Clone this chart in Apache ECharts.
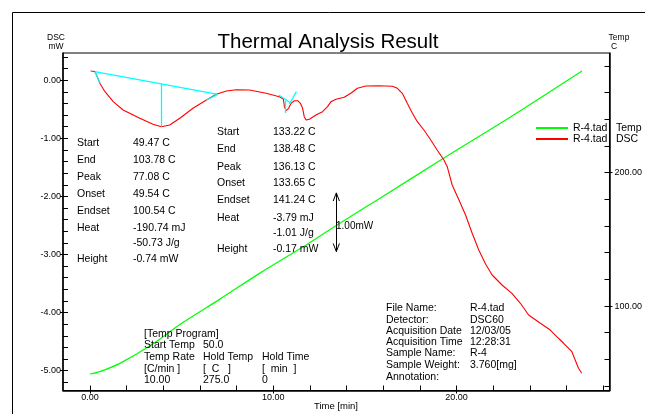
<!DOCTYPE html>
<html>
<head>
<meta charset="utf-8">
<script src="https://cdn.jsdelivr.net/npm/echarts@6/dist/echarts.min.js"></script>
<style>
html,body{margin:0;padding:0;background:#fff;}
#chart{width:645px;height:414px;}
</style>
</head>
<body>
<div id="chart"></div>
<script>
// ---- data ----
const dscTime = [0.04,0.27,0.36,0.54,0.82,1.27,1.81,2.72,3.44,3.90,4.35,4.90,5.62,6.35,6.89,7.44,7.98,8.70,9.61,10.33,10.55,10.61,10.70,10.84,10.97,11.15,11.33,11.48,11.60,11.69,11.79,11.97,12.33,12.69,12.96,13.15,13.42,13.87,14.23,14.59,15.05,15.77,16.50,16.77,17.04,17.31,17.59,17.86,18.22,18.59,18.94,19.31,19.49,19.76,20.13,20.49,20.85,21.21,21.58,21.94,22.48,23.02,23.48,23.93,24.57,25.11,25.56,25.84,26.29,26.47,26.65,26.83];
const dscVal = [0.158,0.150,0.090,-0.053,-0.198,-0.370,-0.513,-0.656,-0.759,-0.800,-0.771,-0.656,-0.484,-0.341,-0.243,-0.186,-0.164,-0.169,-0.225,-0.284,-0.324,-0.456,-0.525,-0.484,-0.398,-0.353,-0.353,-0.398,-0.484,-0.628,-0.685,-0.673,-0.599,-0.542,-0.456,-0.370,-0.329,-0.294,-0.225,-0.139,-0.100,-0.095,-0.103,-0.139,-0.225,-0.398,-0.570,-0.714,-0.857,-1.029,-1.201,-1.373,-1.489,-1.804,-2.062,-2.320,-2.635,-2.923,-3.164,-3.353,-3.525,-3.668,-3.840,-4.041,-4.184,-4.300,-4.442,-4.528,-4.673,-4.816,-4.959,-5.045];
const tempTime = [0,0.54,1.63,3.43,5.0,7.07,9.25,11.52,13.48,15.78,19.31,22.85,26.84];
const tempVal = [49.0,50.8,57.0,71.5,87.0,105.0,124.5,143.5,160.8,180.5,211.0,241.0,276.3];
// analysis baselines (cyan) : [t1, v1, t2, v2]
const baseLines = [
  [0.27,0.146,6.98,-0.243],
  [3.90,-0.064,3.90,-0.800],
  [0.27,0.146,0.55,-0.05],
  [6.35,-0.341,6.98,-0.243],
  [10.30,-0.255,10.97,-0.398],
  [10.66,-0.349,10.66,-0.565],
  [10.88,-0.410,11.26,-0.198]
];
// 1.00 mW scale bar: [t, vTop, vBottom]
const scaleBar = [13.44,-1.94,-2.95];
// axes
const xMajor = [0,10,20];
const xMinor = [0,2,4,6,8,10,12,14,16,18,20,22,24,26,28];
const yMajor = [0,-1,-2,-3,-4,-5];
const yMinor = [0.4,0.2,0,-0.2,-0.4,-0.6,-0.8,-1,-1.2,-1.4,-1.6,-1.8,-2,-2.2,-2.4,-2.6,-2.8,-3,-3.2,-3.4,-3.6,-3.8,-4,-4.2,-4.4,-4.6,-4.8,-5,-5.2];
const tMajor = [100,200];
const tMinor = [40,60,80,100,120,140,160,180,200,220,240,260,280];
const xRange = [-1.47,28.34];
const yRange = [-5.341,0.468];
const tRange = [36.65,289.8];

const FONT = '"Liberation Sans", Arial, sans-serif';
const chart = echarts.init(document.getElementById('chart'), null, {renderer:'canvas'});

function txt(x,y,s,size,align){
  return {type:'text', x:x, y:y, silent:true, z:100,
    style:{text:s, fill:'#000', fontSize:size||10.5, fontFamily:FONT, align:align||'left', verticalAlign:'middle'}};
}
const graphics = [];
graphics.push({type:'rect', shape:{x:12.5,y:12.5,width:700,height:500}, style:{fill:'none',stroke:'#000',lineWidth:1}, silent:true, z:0});
graphics.push(txt(328,42.5,'Thermal Analysis Result',20.5,'center'));
graphics.push(txt(56,37.5,'DSC',8.5,'center'));
graphics.push(txt(56,47,'mW',8.5,'center'));
graphics.push(txt(619,37.5,'Temp',8.5,'center'));
graphics.push(txt(614,47,'C',8.5,'center'));
graphics.push(txt(336,406,'Time [min]',9.5,'center'));
// block 1
const b1L = ['Start','End','Peak','Onset','Endset','Heat','','Height'];
const b1V = ['49.47 C','103.78 C','77.08 C','49.54 C','100.54 C','-190.74 mJ','-50.73 J/g','-0.74 mW'];
const b1Y = [142.7,160,177.5,194.5,211,228.3,243.5,259.5];
b1L.forEach((s,i)=>{ if(s) graphics.push(txt(77,b1Y[i],s)); graphics.push(txt(133,b1Y[i],b1V[i])); });
// block 2
const b2L = ['Start','End','Peak','Onset','Endset','Heat','','Height'];
const b2V = ['133.22 C','138.48 C','136.13 C','133.65 C','141.24 C','-3.79 mJ','-1.01 J/g','-0.17 mW'];
const b2Y = [131.7,149.5,166.7,183.5,200.5,217.7,233.5,249.5];
b2L.forEach((s,i)=>{ if(s) graphics.push(txt(217,b2Y[i],s)); graphics.push(txt(273,b2Y[i],b2V[i])); });
graphics.push(txt(336,226.5,'1.00mW',10));
// temp program
graphics.push(txt(144,334.5,'[Temp Program]'));
graphics.push(txt(144,345.5,'Start Temp'));
graphics.push(txt(203,345.5,'50.0'));
[['Temp Rate','Hold Temp','Hold Time'],['[C/min ]','[  C   ]','[  min  ]'],['10.00','275.0','0']].forEach((r,i)=>{
  const yy=[357.5,369.5,380.5][i];
  graphics.push(txt(144,yy,r[0])); graphics.push(txt(203,yy,r[1])); graphics.push(txt(262,yy,r[2]));
});
// file info
const fiL = ['File Name:','Detector:','Acquisition Date','Acquisition Time','Sample Name:','Sample Weight:','Annotation:'];
const fiV = ['R-4.tad','DSC60','12/03/05','12:28:31','R-4','3.760[mg]',''];
const fiY = [308.5,320,331.5,342.5,353.5,365,377];
fiL.forEach((s,i)=>{ graphics.push(txt(386,fiY[i],s)); if(fiV[i]) graphics.push(txt(470,fiY[i],fiV[i])); });

const fmt2 = v => v.toFixed(2);
const axisLineStyle = {color:'#000', width:1.5};

const cyanPairs = baseLines.map(b => [{coord:[b[0],b[1]]},{coord:[b[2],b[3]]}]);
const dt = 0.17, dv = 0.14;
const barPairs = [
  [{coord:[scaleBar[0],scaleBar[1]]},{coord:[scaleBar[0],scaleBar[2]]}],
  [{coord:[scaleBar[0],scaleBar[1]]},{coord:[scaleBar[0]-dt,scaleBar[1]-dv]}],
  [{coord:[scaleBar[0],scaleBar[1]]},{coord:[scaleBar[0]+dt,scaleBar[1]-dv]}],
  [{coord:[scaleBar[0],scaleBar[2]]},{coord:[scaleBar[0]-dt,scaleBar[2]+dv]}],
  [{coord:[scaleBar[0],scaleBar[2]]},{coord:[scaleBar[0]+dt,scaleBar[2]+dv]}]
];

const option = {
  animation:false,
  backgroundColor:'#fff',
  textStyle:{fontFamily:FONT},
  grid:{left:63, top:53, width:548, height:337.5, show:true, borderColor:'#000', borderWidth:1, containLabel:false},
  legend:{
    data:['Temp','DSC'], orient:'vertical', left:536, top:122.5, padding:0, itemWidth:32, itemHeight:2, itemGap:0,
    icon:'rect', selectedMode:false,
    formatter: n => '{a|R-4.tad}{b|' + n + '}',
    textStyle:{fontSize:10.5, lineHeight:11, color:'#000', fontFamily:FONT,
      rich:{a:{width:43, fontSize:10.5, lineHeight:11, fontFamily:FONT}, b:{fontSize:10.5, lineHeight:11, fontFamily:FONT}}}
  },
  xAxis:[
    {type:'value', min:xRange[0], max:xRange[1], position:'bottom',
     axisLine:{show:true, onZero:false, lineStyle:axisLineStyle},
     axisTick:{show:true, inside:false, length:3, customValues:xMajor, lineStyle:{color:'#000'}},
     axisLabel:{show:true, customValues:xMajor, formatter:fmt2, fontSize:9, color:'#000', margin:3, fontFamily:FONT},
     splitLine:{show:false}},
    {type:'value', min:xRange[0], max:xRange[1], position:'bottom',
     axisLine:{show:false, onZero:false},
     axisTick:{show:true, inside:true, length:5, customValues:xMinor, lineStyle:{color:'#000'}},
     axisLabel:{show:false}, splitLine:{show:false}}
  ],
  yAxis:[
    {type:'value', min:yRange[0], max:yRange[1], position:'left',
     axisLine:{show:true, onZero:false, lineStyle:axisLineStyle},
     axisTick:{show:true, inside:false, length:3, customValues:yMajor, lineStyle:{color:'#000'}},
     axisLabel:{show:true, customValues:yMajor, formatter:fmt2, fontSize:9, color:'#000', margin:2, fontFamily:FONT},
     splitLine:{show:false}},
    {type:'value', min:tRange[0], max:tRange[1], position:'right',
     axisLine:{show:true, onZero:false, lineStyle:axisLineStyle},
     axisTick:{show:true, inside:false, length:3, customValues:tMajor, lineStyle:{color:'#000'}},
     axisLabel:{show:true, customValues:tMajor, formatter:fmt2, fontSize:9, color:'#000', margin:5, fontFamily:FONT},
     splitLine:{show:false}},
    {type:'value', min:yRange[0], max:yRange[1], position:'left',
     axisLine:{show:false, onZero:false},
     axisTick:{show:true, inside:true, length:5, customValues:yMinor, lineStyle:{color:'#000'}},
     axisLabel:{show:false}, splitLine:{show:false}},
    {type:'value', min:tRange[0], max:tRange[1], position:'right',
     axisLine:{show:false, onZero:false},
     axisTick:{show:true, inside:true, length:5, customValues:tMinor, lineStyle:{color:'#000'}},
     axisLabel:{show:false}, splitLine:{show:false}}
  ],
  series:[
    {name:'Temp', type:'line', xAxisIndex:0, yAxisIndex:1, showSymbol:false, symbol:'none', smooth:0.3,
     data: tempTime.map((t,i)=>[t,tempVal[i]]), itemStyle:{color:'#00ff00'}, lineStyle:{color:'#00ff00', width:1.2}, z:3},
    {name:'DSC', type:'line', xAxisIndex:0, yAxisIndex:0, showSymbol:false, symbol:'none', smooth:false,
     data: dscTime.map((t,i)=>[t,dscVal[i]]), itemStyle:{color:'#ff0000'}, lineStyle:{color:'#ff0000', width:1.1}, z:4},
    {name:'base', type:'line', xAxisIndex:0, yAxisIndex:0, data:[], silent:true,
     markLine:{silent:true, symbol:'none', label:{show:false}, animation:false,
       lineStyle:{color:'#00ffff', width:1.3, type:'solid'}, data:cyanPairs}, z:5},
    {name:'bar', type:'line', xAxisIndex:0, yAxisIndex:0, data:[], silent:true,
     markLine:{silent:true, symbol:'none', label:{show:false}, animation:false,
       lineStyle:{color:'#000', width:1, type:'solid'}, data:barPairs}, z:5}
  ],
  graphic: graphics
};
chart.setOption(option);
</script>
</body>
</html>
